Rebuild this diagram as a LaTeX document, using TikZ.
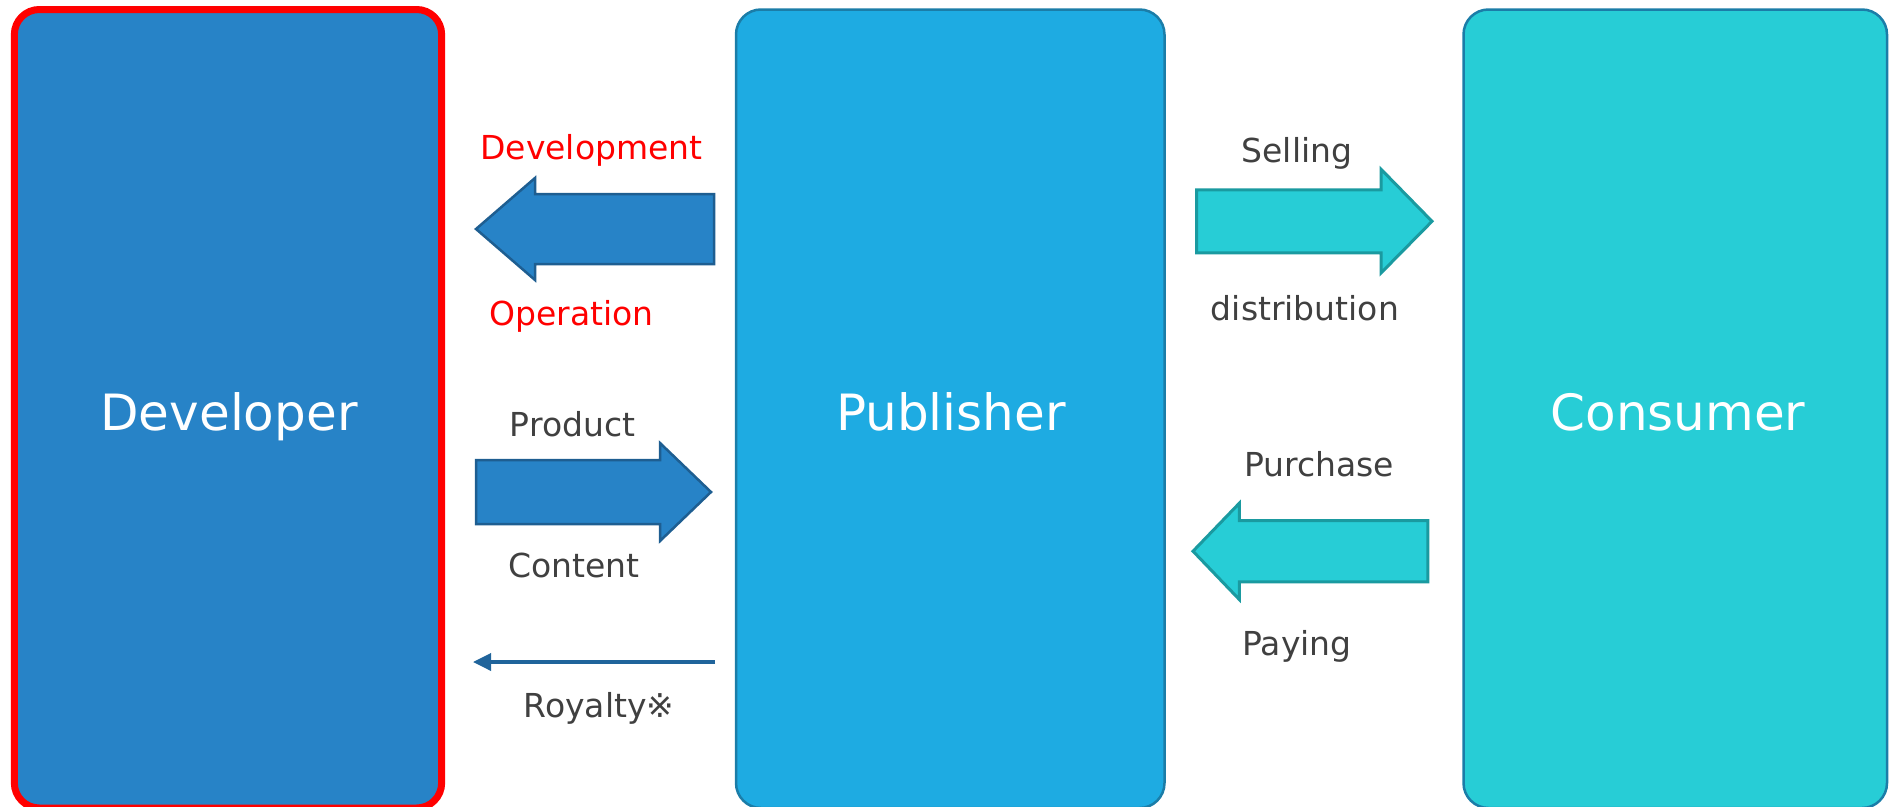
\documentclass[tikz,border=0pt]{standalone}
\usepackage{fontspec}
\setmainfont{DejaVu Sans}
\usetikzlibrary{arrows.meta}
\definecolor{devfill}{RGB}{39,131,199}
\definecolor{pubfill}{RGB}{30,171,226}
\definecolor{confill}{RGB}{39,205,214}
\definecolor{boxline}{RGB}{27,125,168}
\definecolor{bluedark}{RGB}{30,94,145}
\definecolor{royline}{RGB}{32,100,155}
\definecolor{tealdark}{RGB}{26,154,160}
\definecolor{txtgray}{RGB}{64,64,64}
\begin{document}
\begin{tikzpicture}[x=1pt,y=-1pt,
  box/.style={rounded corners=25pt, line width=2.5pt, draw=boxline, inner sep=0pt, minimum height=798.5pt},
  bigtext/.style={text=white, font=\fontsize{50}{60}\selectfont, inner sep=0pt, anchor=base},
  lbl/.style={text=txtgray, font=\fontsize{33}{40}\selectfont, inner sep=0pt, anchor=base},
  redlbl/.style={lbl, text=red},
  bluearrow/.style={fill=devfill, draw=bluedark, line width=2.5pt, line join=miter},
  tealarrow/.style={fill=confill, draw=tealdark, line width=3pt, line join=miter}]
\useasboundingbox (0,0) rectangle (1889,806);

% boxes
\node[box, draw=red, line width=7pt, fill=devfill, minimum width=427.3pt] (dev) at (228,408.75) {};
\node[box, fill=pubfill, minimum width=428.5pt] (pub) at (950.25,408.75) {};
\node[box, fill=confill, minimum width=423.5pt] (con) at (1675.25,408.75) {};

\node[bigtext] (devlbl) at (229,430) {Developer};
\node[bigtext] (publbl) at (951,430) {Publisher};
\node[bigtext] (conlbl) at (1678,430) {Consumer};

% block arrows
\draw[bluearrow] (714,194) -- (535,194) -- (535,178) -- (476,229) -- (535,280) -- (535,264) -- (714,264) -- cycle;
\draw[bluearrow] (476,460) -- (660,460) -- (660,443) -- (711,492) -- (660,541) -- (660,524) -- (476,524) -- cycle;
\draw[tealarrow] (1196.5,189.8) -- (1381,189.8) -- (1381,169.2) -- (1432,221.3) -- (1381,273) -- (1381,252.8) -- (1196.5,252.8) -- cycle;
\draw[tealarrow] (1427.8,520.5) -- (1239.3,520.5) -- (1239.3,503.2) -- (1193,551.2) -- (1239.3,599.5) -- (1239.3,581.8) -- (1427.8,581.8) -- cycle;

% royalty connector
\coordinate (roys) at (715,662);
\coordinate (roye) at (473,662);
\draw[line width=3.5pt, draw=royline, -{Triangle[length=18pt,width=17pt]}] (roys) -- (roye);

% labels
\node[redlbl] (ldev) at (591.5,159.3) {Development};
\node[redlbl] (lop) at (571.5,325) {Operation};
\node[lbl] (lprod) at (572.5,436) {Product};
\node[lbl] (lcont) at (574,577) {Content};
\node[lbl] (lroy) at (599,717) {Royalty※};
\node[lbl] (lsell) at (1297,162.7) {Selling};
\node[lbl] (ldist) at (1305,320) {distribution};
\node[lbl] (lpur) at (1319,476.7) {Purchase};
\node[lbl] (lpay) at (1297,655) {Paying};
\end{tikzpicture}
\end{document}
